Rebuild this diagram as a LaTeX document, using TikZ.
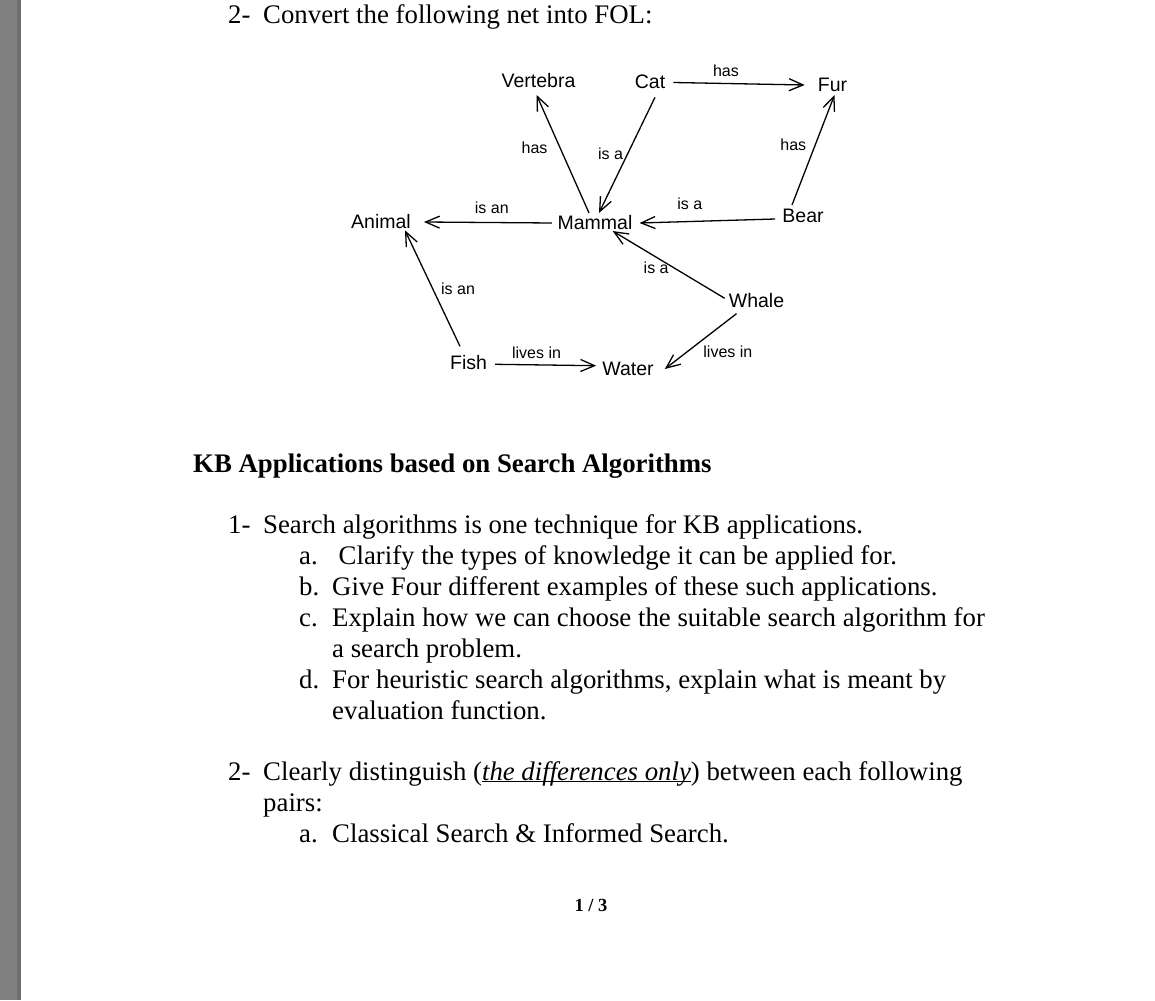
\documentclass[tikz,border=0pt]{standalone}
\usepackage{fontspec}
\setmainfont{Liberation Serif}
\newfontfamily\netfont{Liberation Sans}
\usetikzlibrary{arrows.meta, positioning}

\tikzset{
  concept/.style={font=\netfont\fontsize{19.5}{22}\selectfont, inner sep=0pt},
  rel/.style={font=\netfont\fontsize{16}{18}\selectfont, inner sep=1pt},
  link/.style={-{Straight Barb[length=14pt, width=12pt]}, line width=1.3pt},
  para/.style={anchor=base west, inner sep=0pt, font=\fontsize{26.8}{31}\selectfont},
}

\begin{document}
\begin{tikzpicture}[x=1pt, y=-1pt]
    \useasboundingbox (0,0) rectangle (1155,1000);

    % Page and margin strip
    \fill[white] (0,0) rectangle (1155,1000);
    \fill[black!50] (0,0) rectangle (21,1000);
    \fill[black!57] (17,0) rectangle (21,1000);

    % Question on the net
    \node[para] (convert) at (228,24) {\makebox[35pt][l]{2-}Convert the following net into FOL:};

    % Concepts
    \node[concept] (vertebra) at (538.5,80.5) {Vertebra};
    \node[concept] (cat) at (650,81.5) {Cat};
    \node[concept] (fur) at (832.5,85) {Fur};
    \node[concept] (animal) at (381,222) {Animal};
    \node[concept] (mammal) at (595,223) {Mammal};
    \node[concept] (bear) at (803,216) {Bear};
    \node[concept] (whale) at (756.5,301) {Whale};
    \node[concept] (fish) at (468.5,363) {Fish};
    \node[concept] (water) at (628,369) {Water};

    % Relations
    \draw[link] ([xshift=-6pt, yshift=2.7pt]mammal.north) -- node[rel, pos=0.55, left=11pt] (hasvert) {has} ([xshift=-2pt, yshift=-7pt]vertebra.south);
    \draw[link] ([xshift=5pt, yshift=-8.7pt]cat.south) -- node[rel, pos=0.49, left=3pt] (catisa) {is a} ([xshift=4pt, yshift=2.7pt]mammal.north);
    \draw[link] ([xshift=-5.5pt]mammal.west) -- node[rel, pos=0.47, above=7pt] (mammalisan) {is an} ([xshift=13pt]animal.east);
    \draw[link] ([xshift=8pt, yshift=-1pt]cat.east) -- node[rel, pos=0.40, above=5pt] (cathas) {has} ([xshift=-13pt]fur.west);
    \draw[link] ([xshift=-11pt, yshift=4pt]bear.north) -- node[rel, pos=0.55, left=7.5pt] (bearhas) {has} ([xshift=2pt, yshift=-3pt]fur.south);
    \draw[link] ([xshift=-7pt, yshift=-3pt]bear.west) -- node[rel, pos=0.63, above=10pt] (bearisa) {is a} ([xshift=7pt]mammal.east);
    \draw[link] ([xshift=-4pt, yshift=2.7pt]whale.west) -- node[rel, pos=0.45, left=4pt] (whaleisa) {is a} ([xshift=17.7pt, yshift=-0.7pt]mammal.south);
    \draw[link] ([xshift=-20pt, yshift=-5.3pt]whale.south) -- node[rel, pos=0.68, right=14pt] (whalelives) {lives in} ([xshift=11pt]water.east);
    \draw[link] ([xshift=-8.5pt, yshift=9.3pt]fish.north) -- node[rel, pos=0.5, right=7pt] (fishisan) {is an} ([xshift=-6pt, yshift=-1pt]animal.south east);
    \draw[link] ([xshift=8pt, yshift=-1.3pt]fish.east) -- node[rel, pos=0.41, above=4.6pt] (fishlives) {lives in} ([xshift=-6pt, yshift=3.3pt]water.west);

    % Search algorithms section
    \node[para, font=\bfseries\fontsize{26.8}{31}\selectfont] (kbtitle) at (193,472) {KB Applications based on Search Algorithms};
    \node[para] (search) at (228,533) {\makebox[35pt][l]{1-}Search algorithms is one technique for KB applications.};
    \node[para] (searcha) at (299,564) {\makebox[39.5pt][l]{a.}Clarify the types of knowledge it can be applied for.};
    \node[para] (searchb) at (299,595) {\makebox[33pt][l]{b.}Give Four different examples of these such applications.};
    \node[para] (searchc) at (299,626) {\makebox[33pt][l]{c.}Explain how we can choose the suitable search algorithm for};
    \node[para] (searchcc) at (332,657) {a search problem.};
    \node[para] (searchd) at (299,688) {\makebox[33pt][l]{d.}For heuristic search algorithms, explain what is meant by};
    \node[para] (searchdd) at (332,719) {evaluation function.};
    \node[para] (distinguish) at (228,780) {\makebox[35pt][l]{2-}Clearly distinguish (\underline{\smash{\textit{the differences only}}}) between each following};
    \node[para] (pairs) at (263,811) {pairs:};
    \node[para] (pairsa) at (299,842) {\makebox[33pt][l]{a.}Classical Search \& Informed Search.};

    % Page number
    \node[font=\bfseries\fontsize{18.5}{22}\selectfont, anchor=base, inner sep=0pt] (pageno) at (591,911) {1 / 3};
\end{tikzpicture}
\end{document}
